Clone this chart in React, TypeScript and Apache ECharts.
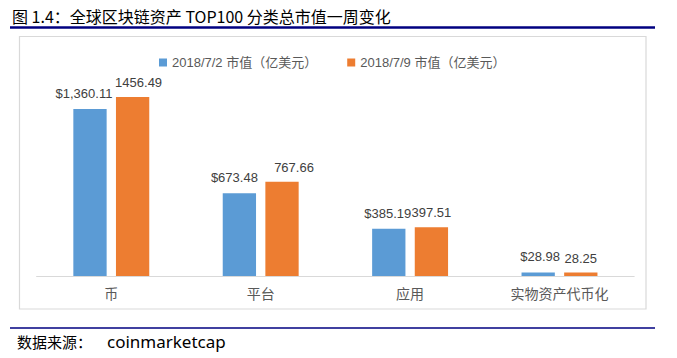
import React, { useEffect, useRef } from "react";
import * as echarts from "echarts";

const categories = ["币", "平台", "应用", "实物资产代币化"];
const seriesNames = ["2018/7/2 市值（亿美元）", "2018/7/9 市值（亿美元）"];
const values0702 = [1360.11, 673.48, 385.19, 28.98];
const values0709 = [1456.49, 767.66, 397.51, 28.25];
const labelShift0702 = [-6, -5, -1, 2];
const labelShift0709 = [6, 12, 0, 0];

const titleText = "图 1.4：全球区块链资产 TOP100 分类总市值一周变化";
const sourceLabel = "数据来源：";
const sourceName = "coinmarketcap";

const NUM_FONT = "'Liberation Sans', Arial, 'Noto Sans CJK SC', sans-serif";
const CJK_FONT = "'Noto Sans CJK SC', 'Liberation Sans', sans-serif";

export default function App() {
  const ref = useRef<HTMLDivElement>(null);

  useEffect(() => {
    if (!ref.current) return;
    const chart = echarts.init(ref.current, undefined, { renderer: "svg" });
    const fmtUsd = (v: number) =>
      "$" + v.toLocaleString("en-US", { minimumFractionDigits: 2, maximumFractionDigits: 2 });

    chart.setOption({
      animation: false,
      backgroundColor: "#ffffff",
      graphic: [
        {
          type: "text",
          x: 12,
          y: 15.5,
          style: {
            text: titleText,
            fontSize: 16,
            fontFamily: CJK_FONT,
            fill: "#000000",
            verticalAlign: "middle",
          },
        },
        {
          type: "line",
          shape: { x1: 10, y1: 27.5, x2: 655, y2: 27.5 },
          style: { stroke: "#000080", lineWidth: 2.5 },
        },
        {
          type: "rect",
          z: -1,
          shape: { x: 19.5, y: 36.5, width: 626.5, height: 272.5 },
          style: { fill: "none", stroke: "#d9d9d9", lineWidth: 1.2 },
        },
        {
          type: "line",
          shape: { x1: 10, y1: 328, x2: 655, y2: 328 },
          style: { stroke: "#000080", lineWidth: 1.5 },
        },
        {
          type: "text",
          x: 17,
          y: 341,
          style: {
            text: sourceLabel,
            fontSize: 15,
            fontFamily: CJK_FONT,
            fill: "#000000",
            verticalAlign: "middle",
          },
        },
        {
          type: "text",
          x: 107,
          y: 341,
          style: {
            text: sourceName,
            fontSize: 17,
            fontFamily: "'Noto Sans', 'Liberation Sans', sans-serif",
            fill: "#000000",
            verticalAlign: "middle",
          },
        },
      ],
      legend: {
        left: 154,
        top: 51,
        icon: "rect",
        itemWidth: 8,
        itemHeight: 8,
        itemGap: 30,
        textStyle: { fontSize: 13, color: "#595959", fontFamily: NUM_FONT },
        data: seriesNames,
      },
      grid: { left: 36.6, right: 42.8, top: 79.5, bottom: 82, containLabel: false },
      xAxis: {
        type: "category",
        data: categories,
        axisLine: { lineStyle: { color: "#d9d9d9", width: 1 } },
        axisTick: { show: false },
        axisLabel: { color: "#595959", fontSize: 14, fontFamily: CJK_FONT, margin: 10 },
      },
      yAxis: {
        type: "value",
        min: 0,
        max: 1600,
        show: false,
        splitLine: { show: false },
      },
      series: [
        {
          name: seriesNames[0],
          type: "bar",
          barWidth: 33.3,
          barGap: "28%",
          itemStyle: { color: "#5B9BD5" },
          data: values0702.map((v, i) => ({
            value: v,
            label: { offset: [labelShift0702[i], 0] },
          })),
          label: {
            show: true,
            position: "top",
            distance: 9,
            color: "#404040",
            fontSize: 13,
            fontFamily: NUM_FONT,
            formatter: (p: any) => fmtUsd(p.value),
          },
        },
        {
          name: seriesNames[1],
          type: "bar",
          barWidth: 33.3,
          barGap: "28%",
          itemStyle: { color: "#ED7D31" },
          data: values0709.map((v, i) => ({
            value: v,
            label: { offset: [labelShift0709[i], 0] },
          })),
          label: {
            show: true,
            position: "top",
            distance: 8,
            color: "#404040",
            fontSize: 13,
            fontFamily: NUM_FONT,
            formatter: (p: any) => Number(p.value).toFixed(2),
          },
        },
      ],
    });

    return () => chart.dispose();
  }, []);

  return (
    <div
      ref={ref}
      style={{ position: "absolute", left: 0, top: 0, width: 677, height: 358, background: "#fff" }}
    />
  );
}
